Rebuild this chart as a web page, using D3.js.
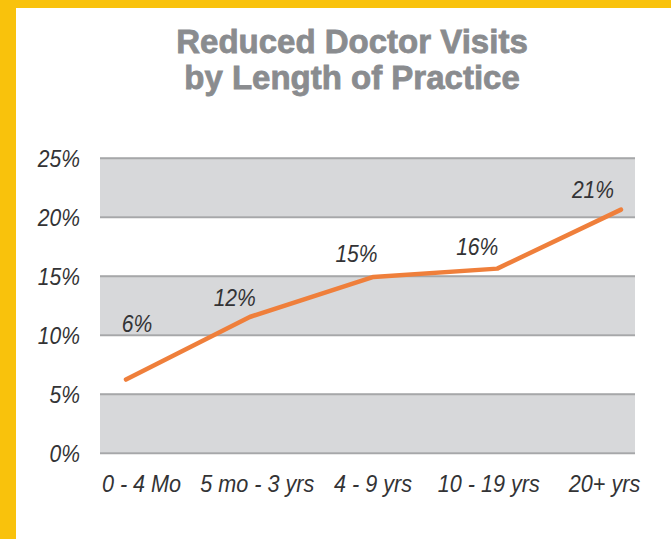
<!DOCTYPE html>
<html><head><meta charset="utf-8">
<script src="https://cdn.jsdelivr.net/npm/d3@7"></script>
<style>html,body{margin:0;padding:0;background:#fff;}svg{display:block;}</style>
</head><body>
<script>
const categories = ["0 - 4 Mo", "5 mo - 3 yrs", "4 - 9 yrs", "10 - 19 yrs", "20+ yrs"];
const values = [6.2, 11.5, 14.9, 15.6, 20.6];
const yTicks = [0, 5, 10, 15, 20, 25];
const titleLines = ["Reduced Doctor Visits", "by Length of Practice"];
const labelOffsets = [[11, -48], [-15, -11], [-17, -15], [-20, -14], [-28, -12]];

const W = 671, H = 539;
const FONT = "Liberation Sans, Arial, sans-serif";
const svg = d3.select("body").append("svg").attr("width", W).attr("height", H);

function condense(sel, k) {
  sel.each(function () {
    const len = this.getComputedTextLength();
    d3.select(this).attr("textLength", len * k).attr("lengthAdjust", "spacingAndGlyphs");
  });
}

// frame
svg.append("rect").attr("width", W).attr("height", H).attr("fill", "#f9c20c");
svg.append("rect").attr("x", 16).attr("y", 8).attr("width", W - 16).attr("height", H - 8).attr("fill", "#ffffff");

// title
const tt = svg.append("g").selectAll("text").data(titleLines).join("text")
  .attr("x", 352).attr("y", (d, i) => 53 + i * 36)
  .attr("text-anchor", "middle")
  .attr("font-family", FONT)
  .attr("font-weight", "bold").attr("font-size", 33)
  .attr("fill", "#8a8c8f").attr("stroke", "#8a8c8f").attr("stroke-width", 0.8)
  .text(d => d);

const x0 = 100, x1 = 635;
const y = d3.scaleLinear().domain([0, 25]).range([452.7, 157.7]);
const xPt = d3.scalePoint().domain(categories).range([126, 621]);
const xLab = d3.scalePoint().domain(categories).range([141, 604]);

// bands
const bandStarts = [0, 10, 20];
svg.append("g").selectAll("rect").data(bandStarts).join("rect")
  .attr("x", x0).attr("width", x1 - x0)
  .attr("y", d => y(d + 5)).attr("height", d => y(d) - y(d + 5))
  .attr("fill", "#d7d8da");

// y axis
const yAxis = d3.axisLeft(y).tickValues(yTicks).tickFormat(d => d + "%").tickSize(-(x1 - x0)).tickPadding(20);
const gy = svg.append("g").attr("transform", `translate(${x0},0)`).call(yAxis);
gy.select(".domain").remove();
gy.selectAll(".tick line").attr("stroke", "#a6a7a9").attr("stroke-width", 2);
gy.selectAll(".tick text")
  .attr("font-family", FONT)
  .attr("font-style", "italic").attr("font-size", 24.5)
  .attr("fill", "#333335").attr("dy", "0.36em");
condense(gy.selectAll(".tick text"), 0.86);

// x labels
const xAxis = d3.axisBottom(xLab).tickSize(0).tickPadding(0);
const gx = svg.append("g").attr("transform", "translate(0,492)").call(xAxis);
gx.select(".domain").remove();
gx.selectAll(".tick text")
  .attr("font-family", FONT)
  .attr("font-style", "italic").attr("font-size", 24)
  .attr("fill", "#333335").attr("dy", 0).attr("y", 0);
condense(gx.selectAll(".tick text"), 0.9);

// line
const line = d3.line().x((d, i) => xPt(categories[i])).y(d => y(d));
svg.append("path").datum(values).attr("d", line)
  .attr("fill", "none").attr("stroke", "#ef7f3b").attr("stroke-width", 4.5)
  .attr("stroke-linecap", "round").attr("stroke-linejoin", "round");

// data labels
const dl = svg.append("g").selectAll("text").data(values).join("text")
  .attr("x", (d, i) => xPt(categories[i]) + labelOffsets[i][0])
  .attr("y", (d, i) => y(d) + labelOffsets[i][1])
  .attr("text-anchor", "middle")
  .attr("font-family", FONT)
  .attr("font-style", "italic").attr("font-size", 24.5)
  .attr("fill", "#333335")
  .text(d => Math.round(d) + "%");
condense(dl, 0.86);
</script>
</body></html>
